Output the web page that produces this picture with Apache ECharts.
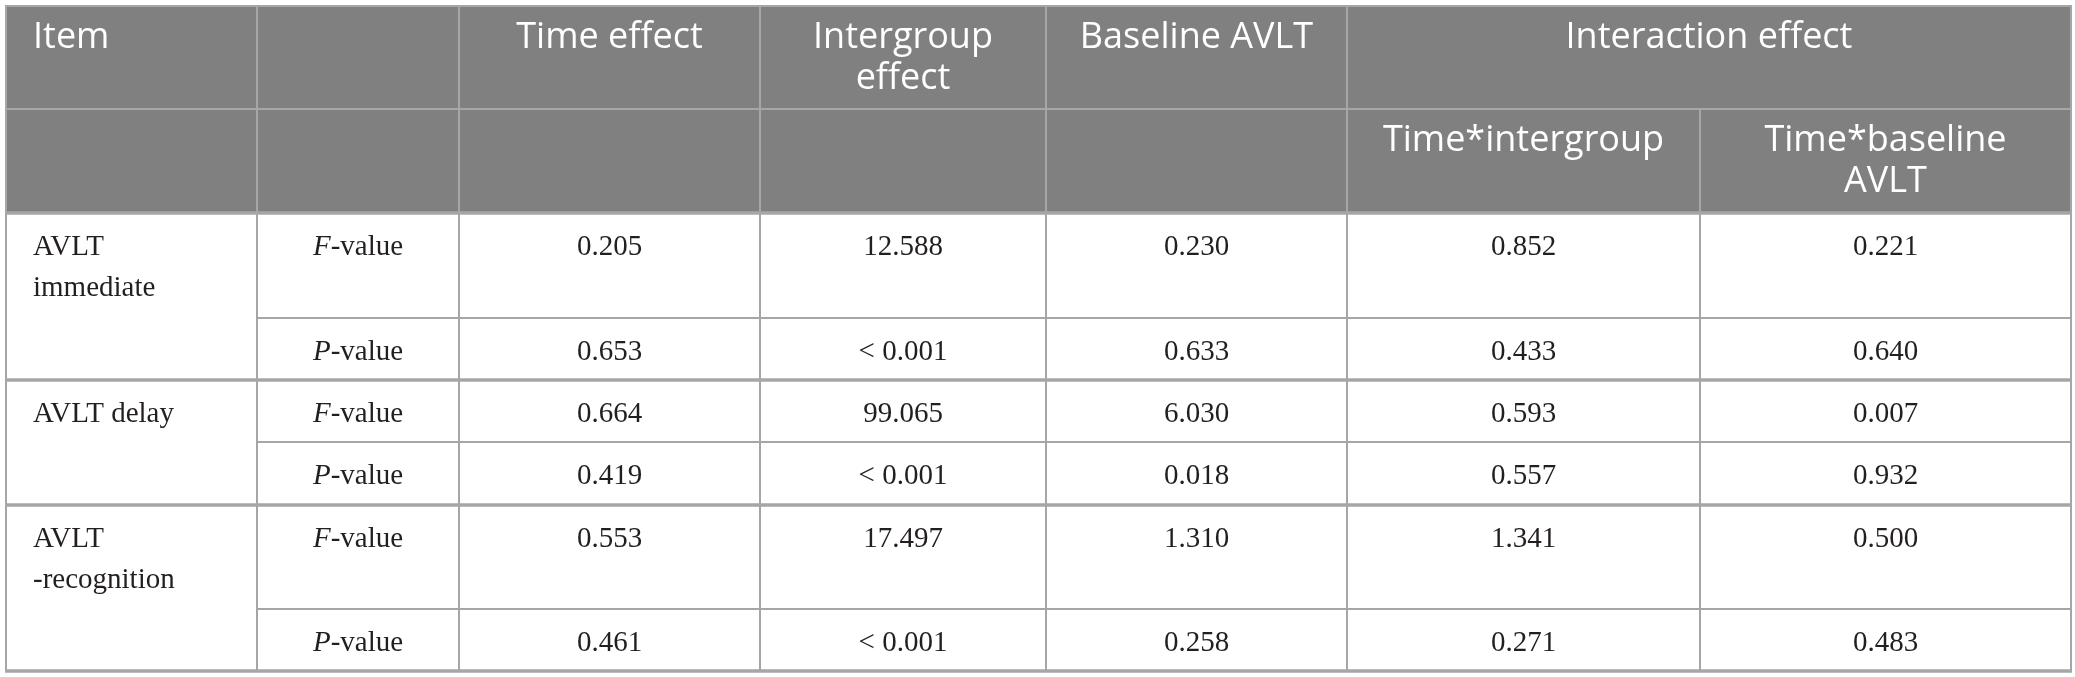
<!DOCTYPE html>
<html>
<head>
<meta charset="utf-8">
<script src="https://cdn.jsdelivr.net/npm/echarts@6/dist/echarts.min.js"></script>
<style>
  html, body { margin: 0; padding: 0; background: #fff; }
  #main { width: 2075px; height: 677px; }
</style>
</head>
<body>
<div id="main"></div>
<script>
// table content
var items = ['AVLT\nimmediate', 'AVLT delay', 'AVLT\n-recognition'];
var statNames = ['F', 'P'];
var headerTop = ['Item', '', 'Time effect', 'Intergroup\neffect', 'Baseline AVLT', 'Interaction effect'];
var headerSub = ['Time*intergroup', 'Time*baseline\nAVLT'];
var timeEffect = [0.205, 0.653, 0.664, 0.419, 0.553, 0.461];
var intergroupEffect = [12.588, '< 0.001', 99.065, '< 0.001', 17.497, '< 0.001'];
var baselineAvlt = [0.230, 0.633, 6.030, 0.018, 1.310, 0.258];
var timeIntergroup = [0.852, 0.433, 0.593, 0.557, 1.341, 0.271];
var timeBaselineAvlt = [0.221, 0.640, 0.007, 0.932, 0.500, 0.483];

// layout (axis units = pixels)
var colEdges = [6, 257, 459, 760, 1046, 1347, 1700, 2071];
var rowEdges = [6, 109, 213, 318, 380, 442, 505, 609, 671];
var thickRows = [2, 4, 6, 8];

var HEAD_FONT = '"Open Sans", "Noto Sans", sans-serif';
var BODY_FONT = '"Liberation Serif", "DejaVu Serif", serif';
var LINE = '#a6a6a6';

function fmt(v) {
  return typeof v === 'number' ? v.toFixed(3) : v;
}

var cells = [];
headerTop.forEach(function (t, i) {
  cells.push({ c: [i, i === 5 ? 7 : i + 1], r: [0, 1], text: t, head: true, left: i === 0 });
});
for (var i = 0; i < 5; i++) {
  cells.push({ c: [i, i + 1], r: [1, 2], text: '', head: true });
}
headerSub.forEach(function (t, i) {
  cells.push({ c: [5 + i, 6 + i], r: [1, 2], text: t, head: true });
});
var valueCols = [timeEffect, intergroupEffect, baselineAvlt, timeIntergroup, timeBaselineAvlt];
items.forEach(function (item, g) {
  cells.push({ c: [0, 1], r: [2 + 2 * g, 4 + 2 * g], text: item, left: true });
  statNames.forEach(function (s, k) {
    var row = 2 + 2 * g + k;
    cells.push({ c: [1, 2], r: [row, row + 1], text: '{i|' + s + '}-value' });
    valueCols.forEach(function (arr, j) {
      cells.push({ c: [2 + j, 3 + j], r: [row, row + 1], text: fmt(arr[2 * g + k]) });
    });
  });
});

function renderCell(params, api) {
  var cell = cells[params.dataIndex];
  var p0 = api.coord([colEdges[cell.c[0]], rowEdges[cell.r[0]]]);
  var p1 = api.coord([colEdges[cell.c[1]], rowEdges[cell.r[1]]]);
  var x0 = p0[0], y0 = Math.min(p0[1], p1[1]);
  var w = p1[0] - p0[0], h = Math.abs(p1[1] - p0[1]);
  var head = !!cell.head;
  return {
    type: 'group',
    children: [{
      type: 'rect',
      shape: { x: x0, y: y0, width: w, height: h },
      style: { fill: head ? '#808080' : '#ffffff', stroke: LINE, lineWidth: 2 }
    }, {
      type: 'text',
      style: {
        text: cell.text,
        x: cell.left ? x0 + 27 : x0 + w / 2,
        y: y0 + (head ? 11 : 14),
        align: cell.left ? 'left' : 'center',
        verticalAlign: 'top',
        fill: head ? '#ffffff' : '#231f20',
        fontFamily: head ? HEAD_FONT : BODY_FONT,
        fontSize: head ? 36 : 29,
        lineHeight: 41,
        rich: {
          i: { fontStyle: 'italic', fontFamily: BODY_FONT, fontSize: 29, lineHeight: 41, fill: '#231f20' }
        }
      }
    }]
  };
}

function renderRule(params, api) {
  var r = thickRows[params.dataIndex];
  var a = api.coord([colEdges[0], rowEdges[r]]);
  var b = api.coord([colEdges[colEdges.length - 1], rowEdges[r]]);
  return {
    type: 'line',
    shape: { x1: a[0] - 1, y1: a[1], x2: b[0] + 1, y2: b[1] },
    style: { stroke: LINE, lineWidth: 3.5 }
  };
}

var chart = echarts.init(document.getElementById('main'));
chart.setOption({
  animation: false,
  grid: { left: 0, right: 0, top: 0, bottom: 0 },
  xAxis: { type: 'value', min: 0, max: 2075, show: false },
  yAxis: { type: 'value', min: 0, max: 677, inverse: true, show: false },
  series: [{
    type: 'custom',
    silent: true,
    clip: false,
    renderItem: renderCell,
    data: cells.map(function (c, i) { return [i, 0]; })
  }, {
    type: 'custom',
    silent: true,
    clip: false,
    z: 5,
    renderItem: renderRule,
    data: thickRows.map(function (r, i) { return [i, 0]; })
  }]
});
</script>
</body>
</html>
